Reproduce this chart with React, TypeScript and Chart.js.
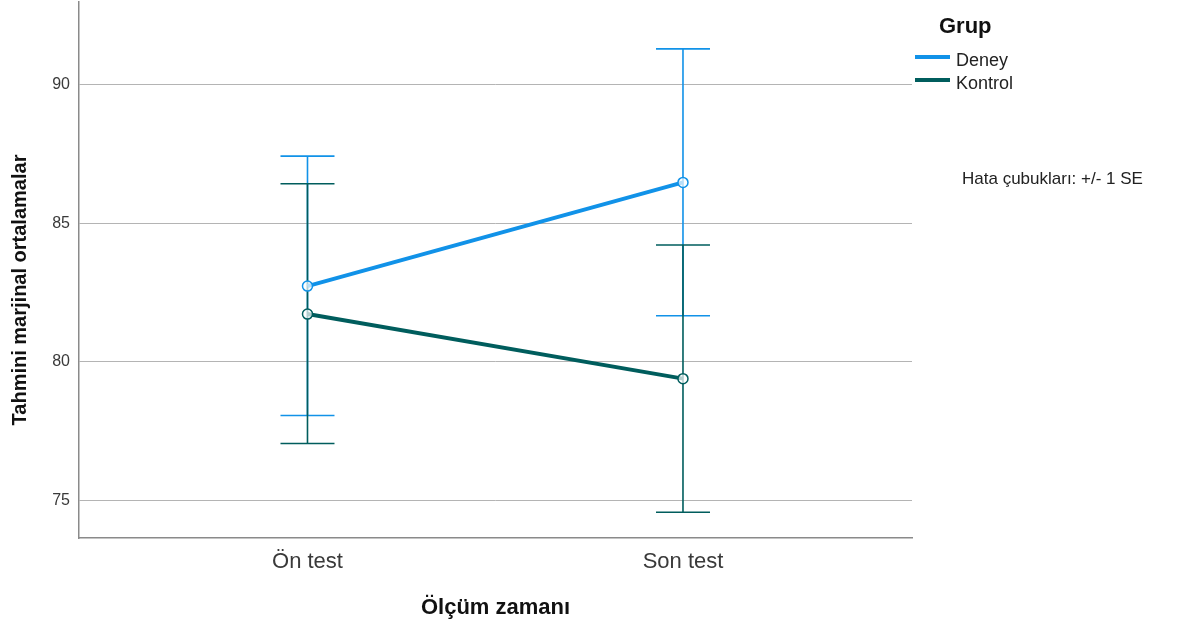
import React, { useEffect, useRef } from "react";
import { Chart, registerables } from "chart.js";

Chart.register(...registerables);

const categories = ["Ön test", "Son test"];
const deneyMeans = [82.73, 86.47];
const deneyLower = [78.06, 81.66];
const deneyUpper = [87.42, 91.29];
const kontrolMeans = [81.72, 79.39];
const kontrolLower = [77.05, 74.57];
const kontrolUpper = [86.42, 84.21];
const yTicks = [75, 80, 85, 90];

const seriesNames = ["Deney", "Kontrol"];
const seriesColors = ["#1192e8", "#005d5d"];

const FONT = "'Liberation Sans', Arial, sans-serif";

const areaFixPlugin = {
  id: "areaFix",
  afterLayout(chart: any) {
    const y = chart.scales.y;
    const target = 2;
    const d = y.top - target;
    if (d !== 0) {
      y.top = target;
      y.height += d;
      chart.chartArea.top = target;
      chart.chartArea.height += d;
      y.configure();
    }
  },
};

const errorBarPlugin = {
  id: "errorBars",
  beforeDatasetsDraw(chart: any) {
    const { ctx, scales } = chart;
    const xs = scales.x;
    const ys = scales.y;
    const groups = [
      { lo: deneyLower, hi: deneyUpper, color: seriesColors[0] },
      { lo: kontrolLower, hi: kontrolUpper, color: seriesColors[1] },
    ];
    const half = 27;
    ctx.save();
    ctx.lineWidth = 1.6;
    groups.forEach((g) => {
      ctx.strokeStyle = g.color;
      g.lo.forEach((lo, i) => {
        const x = xs.getPixelForValue(i);
        const yl = ys.getPixelForValue(lo);
        const yh = ys.getPixelForValue(g.hi[i]);
        ctx.beginPath();
        ctx.moveTo(x, yl);
        ctx.lineTo(x, yh);
        ctx.moveTo(x - half, yl);
        ctx.lineTo(x + half, yl);
        ctx.moveTo(x - half, yh);
        ctx.lineTo(x + half, yh);
        ctx.stroke();
      });
    });
    ctx.restore();
  },
};

const textPlugin = {
  id: "texts",
  afterDraw(chart: any) {
    const { ctx, chartArea } = chart;
    ctx.save();
    ctx.fillStyle = "#111";
    ctx.font = `bold 20px ${FONT}`;
    ctx.textAlign = "center";
    ctx.textBaseline = "middle";
    ctx.translate(20, 290);
    ctx.rotate(-Math.PI / 2);
    ctx.fillText("Tahmini marjinal ortalamalar", 0, 0);
    ctx.restore();

    ctx.save();
    ctx.fillStyle = "#111";
    ctx.font = `bold 22px ${FONT}`;
    ctx.textAlign = "center";
    ctx.textBaseline = "middle";
    ctx.fillText("Ölçüm zamanı", (chartArea.left + chartArea.right) / 2, 608);

    ctx.textAlign = "left";
    ctx.textBaseline = "alphabetic";
    ctx.font = `bold 22px ${FONT}`;
    ctx.fillText("Grup", 939, 33);
    const lineY = [57, 80];
    const textY = [66, 89];
    ctx.font = `18px ${FONT}`;
    seriesNames.forEach((n, i) => {
      ctx.strokeStyle = seriesColors[i];
      ctx.lineWidth = 4;
      ctx.beginPath();
      ctx.moveTo(915, lineY[i]);
      ctx.lineTo(950, lineY[i]);
      ctx.stroke();
      ctx.fillStyle = "#222";
      ctx.fillText(n, 956, textY[i]);
    });
    ctx.font = `17px ${FONT}`;
    ctx.fillStyle = "#222";
    ctx.fillText("Hata çubukları: +/- 1 SE", 962, 184);
    ctx.restore();
  },
};

export default function App() {
  const ref = useRef<HTMLCanvasElement>(null);
  useEffect(() => {
    if (!ref.current) return;
    const mk = (vals: number[]) => vals.map((v, i) => ({ x: i, y: v }));
    const chart = new Chart(ref.current, {
      type: "line",
      data: {
        datasets: [
          {
            label: seriesNames[0],
            data: mk(deneyMeans),
            borderColor: seriesColors[0],
            borderWidth: 4,
            pointRadius: 5,
            pointBorderWidth: 1.5,
            pointBorderColor: seriesColors[0],
            pointBackgroundColor: "rgba(255,255,255,0.7)",
          },
          {
            label: seriesNames[1],
            data: mk(kontrolMeans),
            borderColor: seriesColors[1],
            borderWidth: 4,
            pointRadius: 5,
            pointBorderWidth: 1.5,
            pointBorderColor: seriesColors[1],
            pointBackgroundColor: "rgba(255,255,255,0.7)",
          },
        ],
      },
      options: {
        animation: false,
        responsive: false,
        layout: { padding: { left: 0, top: 2, right: 266, bottom: 0 } },
        plugins: { legend: { display: false }, tooltip: { enabled: false } },
        scales: {
          x: {
            type: "linear",
            min: -0.6085,
            max: 1.6099,
            grid: { display: false, drawTicks: false },
            border: { color: "#8a8a8a", width: 1.5 },
            afterBuildTicks: (s: any) => {
              s.ticks = categories.map((_, i) => ({ value: i }));
            },
            afterFit: (s: any) => {
              s.height = 92;
              s.paddingLeft = 0;
              s.paddingRight = 0;
            },
            ticks: {
              color: "#3a3a3a",
              font: { family: FONT, size: 22 },
              padding: 11,
              maxRotation: 0,
              callback: (v: any) => categories[v] ?? "",
            },
          },
          y: {
            min: 73.64,
            max: 92.98,
            grid: { color: "#b4b4b4", lineWidth: 1, drawTicks: false },
            border: { color: "#8a8a8a", width: 1.5 },
            afterBuildTicks: (s: any) => {
              s.ticks = yTicks.map((v) => ({ value: v }));
            },
            afterFit: (s: any) => {
              s.width = 79;
              s.paddingTop = 0;
              s.paddingBottom = 0;
            },
            ticks: {
              color: "#3a3a3a",
              font: { family: FONT, size: 16 },
              padding: 9,
            },
          },
        },
      },
      plugins: [areaFixPlugin, errorBarPlugin, textPlugin],
    });
    return () => chart.destroy();
  }, []);
  return (
    <div style={{ position: "absolute", left: 0, top: 0, width: 1178, height: 630, background: "#fff" }}>
      <canvas ref={ref} width={1178} height={630} />
    </div>
  );
}
